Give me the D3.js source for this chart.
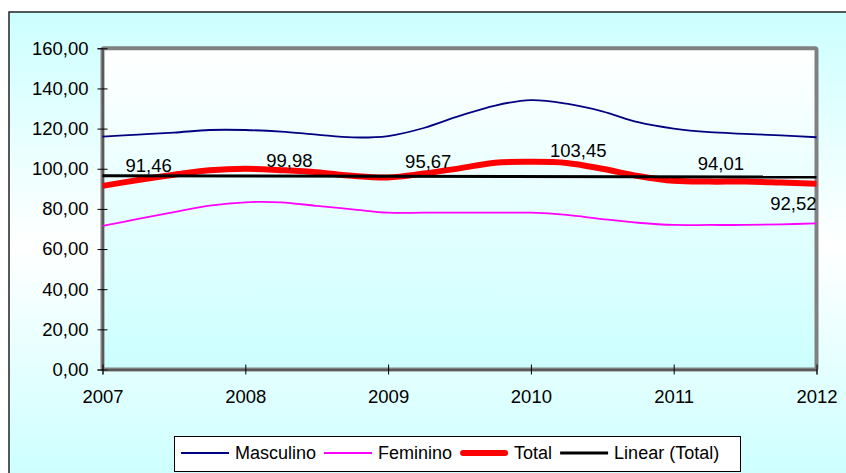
<!DOCTYPE html>
<html>
<head>
<meta charset="utf-8">
<script src="https://cdn.jsdelivr.net/npm/d3@7/dist/d3.min.js"></script>
<style>
  html, body { margin: 0; padding: 0; background: #ffffff; }
  svg { display: block; font-family: "Liberation Sans", Arial, sans-serif; }
</style>
</head>
<body>
<svg id="chart" width="846" height="473"></svg>
<script>
// Quarterly observation points (decimal years)
const periods = [2007, 2007.25, 2007.5, 2007.75, 2008, 2008.25, 2008.5, 2008.75,
                 2009, 2009.25, 2009.5, 2009.75, 2010, 2010.25, 2010.5, 2010.75,
                 2011, 2011.25, 2011.5, 2011.75, 2012];

const masculino = [116.0, 117.0, 118.0, 119.3, 119.3, 118.5, 117.0, 115.6,
                   116.3, 120.3, 126.3, 131.5, 134.2, 132.4, 128.6, 123.2,
                   120.0, 118.2, 117.4, 116.6, 115.7];

const feminino = [71.5, 75.0, 78.4, 81.6, 83.3, 83.3, 81.5, 79.8,
                  78.1, 78.1, 78.1, 78.1, 78.1, 77.0, 74.9, 73.1,
                  72.0, 72.0, 72.0, 72.3, 72.8];

const total = [91.46, 94.4, 97.0, 99.2, 99.98, 99.3, 98.3, 96.5,
               95.67, 97.6, 100.2, 103.0, 103.45, 102.9, 100.0, 96.4,
               94.01, 93.6, 93.6, 93.1, 92.52];

const yearTicks = [2007, 2008, 2009, 2010, 2011, 2012];
const valueTicks = [0, 20, 40, 60, 80, 100, 120, 140, 160];
const seriesNames = ["Masculino", "Feminino", "Total", "Linear (Total)"];

// Year-end Total points: they carry the value labels and feed the linear trend
const labelIndex = [0, 4, 8, 12, 16, 20];
const labelNudge = [[23, -14, "start"], [21, -1.5, "start"], [17, -9, "start"],
                    [19, -5, "start"], [24, -11, "start"], [0, 26, "end"]];

const svg = d3.select("#chart");
const plot = { left: 102.5, right: 816.5, top: 48.3, bottom: 369.5 };

const x = d3.scaleLinear().domain([2007, 2012]).range([plot.left, plot.right]);
const y = d3.scaleLinear().domain([0, 160]).range([plot.bottom, plot.top]);
const fmt = d3.formatLocale({ decimal: ",", thousands: ".", grouping: [3], currency: ["", ""] }).format(".2f");

// Gradients
const defs = svg.append("defs");
const outerGrad = defs.append("linearGradient").attr("id", "outerGrad")
  .attr("gradientUnits", "userSpaceOnUse").attr("x1", 0).attr("y1", 12).attr("x2", 0).attr("y2", 480);
outerGrad.append("stop").attr("offset", 0).attr("stop-color", "#ccffff");
outerGrad.append("stop").attr("offset", 0.5).attr("stop-color", "#ffffff");
outerGrad.append("stop").attr("offset", 1).attr("stop-color", "#ccffff");

const plotGrad = defs.append("linearGradient").attr("id", "plotGrad")
  .attr("x1", 0).attr("y1", 0).attr("x2", 0).attr("y2", 1);
plotGrad.append("stop").attr("offset", 0).attr("stop-color", "#ffffff");
plotGrad.append("stop").attr("offset", 1).attr("stop-color", "#ccffff");

// Chart area
svg.append("rect").attr("x", 9).attr("y", 12).attr("width", 860).attr("height", 480)
  .attr("fill", "url(#outerGrad)").attr("stroke", "#222").attr("stroke-width", 1.5);

// Plot area
svg.append("rect")
  .attr("x", plot.left).attr("y", plot.top)
  .attr("width", plot.right - plot.left).attr("height", plot.bottom - plot.top)
  .attr("fill", "url(#plotGrad)").attr("stroke", "#808080").attr("stroke-width", 4)
  .attr("rx", 1.5);

// Axes with cross ticks
const yAxis = svg.append("g").attr("transform", `translate(${plot.left},0)`)
  .call(d3.axisLeft(y).tickValues(valueTicks).tickFormat(fmt).tickSize(5).tickPadding(9));
yAxis.select(".domain").attr("stroke", "#333").attr("stroke-width", 1);
yAxis.selectAll(".tick line").attr("x1", -5).attr("x2", 5).attr("stroke", "#000");
yAxis.selectAll("text").attr("font-size", "18.5px").attr("fill", "#000")
  .attr("font-family", "Liberation Sans, Arial, sans-serif");

const xAxis = svg.append("g").attr("transform", `translate(0,${plot.bottom})`)
  .call(d3.axisBottom(x).tickValues(yearTicks).tickFormat(d3.format("d")).tickSize(5).tickPadding(15.5));
xAxis.select(".domain").attr("stroke", "#333").attr("stroke-width", 1);
xAxis.selectAll(".tick line").attr("y1", -5).attr("y2", 5).attr("stroke", "#000");
xAxis.selectAll("text").attr("font-size", "18.5px").attr("fill", "#000")
  .attr("font-family", "Liberation Sans, Arial, sans-serif");

// Series lines
const line = d3.line().x(d => x(d[0])).y(d => y(d[1])).curve(d3.curveCardinal.tension(0));
const pairs = vals => periods.map((p, i) => [p, vals[i]]);

svg.append("path").datum(pairs(masculino)).attr("d", line)
  .attr("fill", "none").attr("stroke", "#000080").attr("stroke-width", 1.8);
svg.append("path").datum(pairs(feminino)).attr("d", line)
  .attr("fill", "none").attr("stroke", "#ff00ff").attr("stroke-width", 1.8);
svg.append("path").datum(pairs(total)).attr("d", line)
  .attr("fill", "none").attr("stroke", "#ff0000").attr("stroke-width", 6);

// Linear trend of the yearly Total values (least squares)
const tx = labelIndex.map(i => periods[i]);
const ty = labelIndex.map(i => total[i]);
const mx = d3.mean(tx), my = d3.mean(ty);
const slope = d3.sum(tx, (p, i) => (p - mx) * (ty[i] - my)) / d3.sum(tx, p => (p - mx) ** 2);
const trend = [2007, 2012].map(p => [p, my + slope * (p - mx)]);
svg.append("path").datum(trend).attr("d", d3.line().x(d => x(d[0])).y(d => y(d[1])))
  .attr("fill", "none").attr("stroke", "#000").attr("stroke-width", 3);

// Value labels on Total
svg.append("g").selectAll("text").data(labelIndex).join("text")
  .attr("x", (d, i) => x(periods[d]) + labelNudge[i][0])
  .attr("y", (d, i) => y(total[d]) + labelNudge[i][1])
  .attr("text-anchor", (d, i) => labelNudge[i][2])
  .attr("font-size", "18.5px").attr("fill", "#000")
  .text(d => fmt(total[d]));

// Legend
const legend = svg.append("g");
legend.append("rect").attr("x", 174.5).attr("y", 436.5).attr("width", 566).attr("height", 35)
  .attr("fill", "#ffffff").attr("stroke", "#000").attr("stroke-width", 1);
const legendStyles = [
  { color: "#000080", width: 1.8, cap: "butt" },
  { color: "#ff00ff", width: 1.8, cap: "butt" },
  { color: "#ff0000", width: 6, cap: "round" },
  { color: "#000000", width: 3, cap: "butt" }
];
let cx = 181;
const ly = 453;
seriesNames.forEach((name, i) => {
  const st = legendStyles[i];
  const inset = st.cap === "round" ? 3 : 0;
  legend.append("line").attr("x1", cx + inset).attr("x2", cx + 48 - inset)
    .attr("y1", ly).attr("y2", ly)
    .attr("stroke", st.color).attr("stroke-width", st.width).attr("stroke-linecap", st.cap);
  const t = legend.append("text").attr("x", cx + 54).attr("y", ly).attr("dy", "0.35em")
    .attr("font-size", "18px").attr("fill", "#000").text(name);
  cx = cx + 54 + t.node().getComputedTextLength() + 8;
});
</script>
</body>
</html>
